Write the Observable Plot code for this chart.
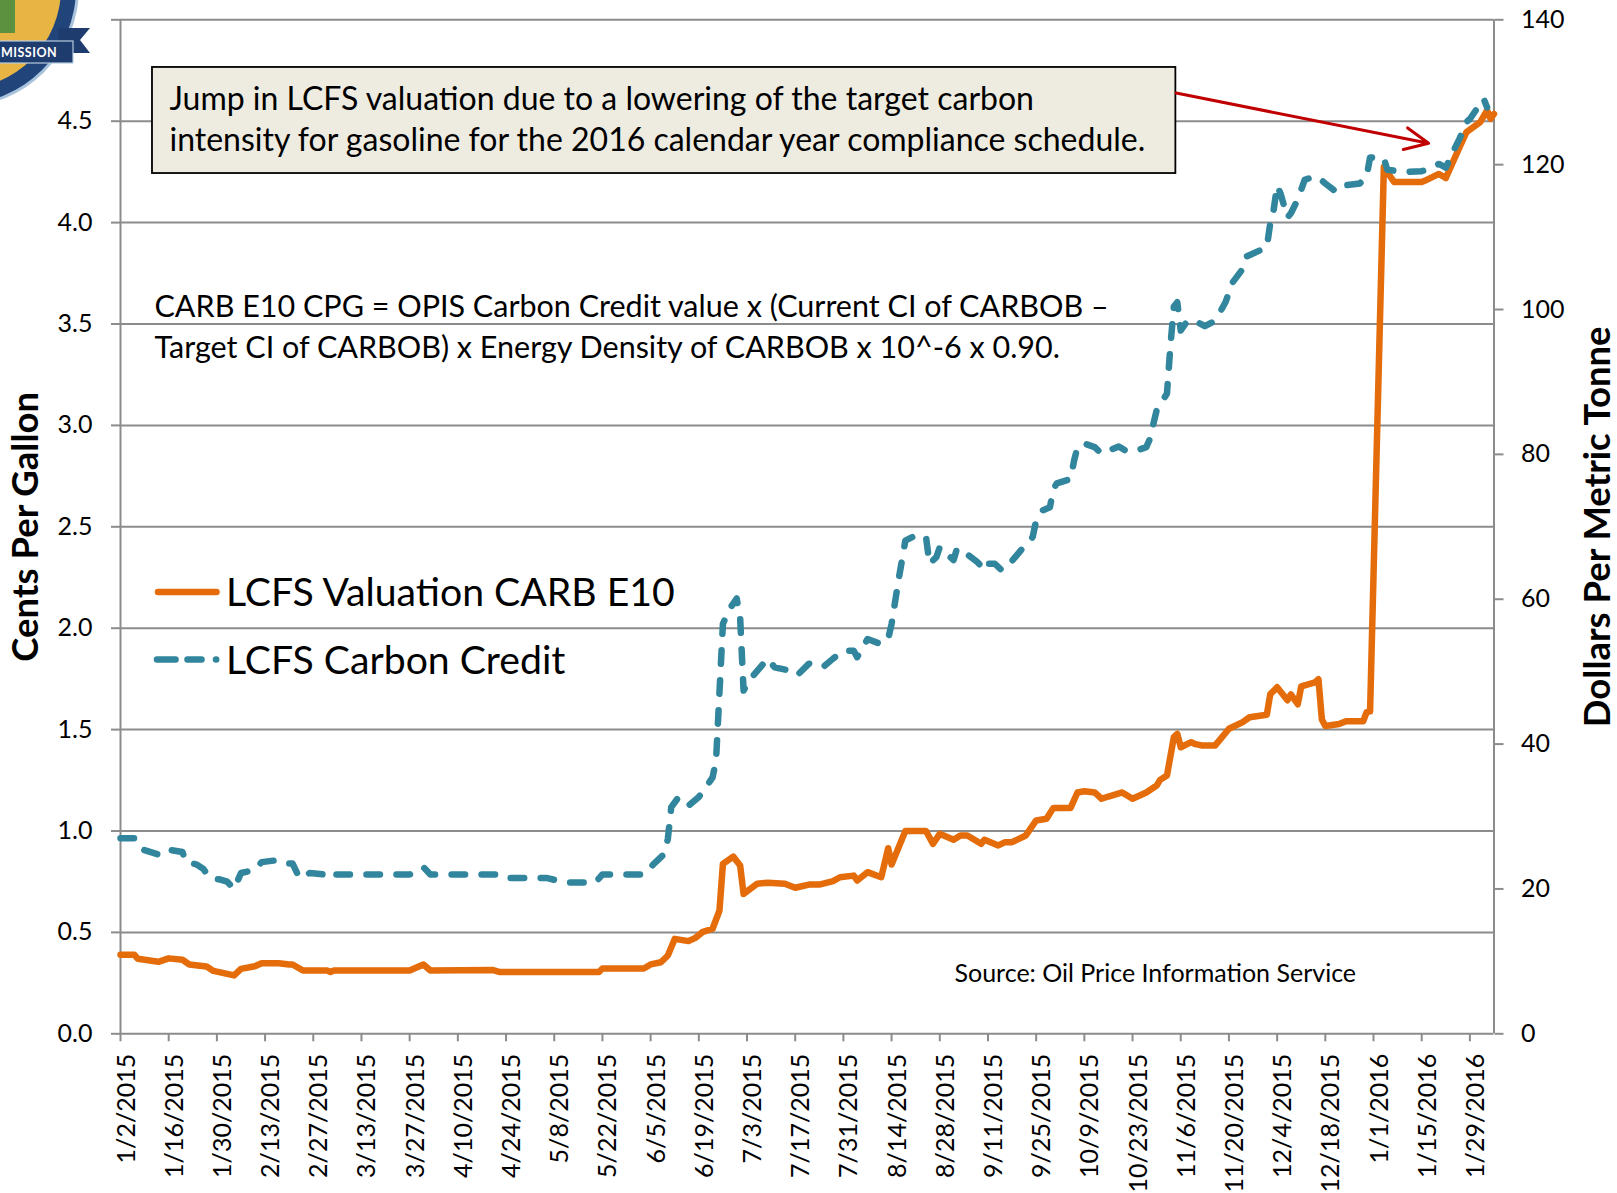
<!DOCTYPE html>
<html><head><meta charset="utf-8">
<script src="https://cdn.jsdelivr.net/npm/d3@7"></script>
<script src="https://cdn.jsdelivr.net/npm/@observablehq/plot@0.6"></script>
<style>
html,body{margin:0;padding:0;background:#fff;}
#chart{position:relative;width:1617px;height:1193px;overflow:hidden;background:#fff;}
</style></head><body><div id="chart"></div>
<script>
// ---------- DATA ----------
const xTickLabels = ["1/2/2015","1/16/2015","1/30/2015","2/13/2015","2/27/2015","3/13/2015","3/27/2015","4/10/2015","4/24/2015","5/8/2015","5/22/2015","6/5/2015","6/19/2015","7/3/2015","7/17/2015","7/31/2015","8/14/2015","8/28/2015","9/11/2015","9/25/2015","10/9/2015","10/23/2015","11/6/2015","11/20/2015","12/4/2015","12/18/2015","1/1/2016","1/15/2016","1/29/2016"];
const leftTicks = [0,0.5,1,1.5,2,2.5,3,3.5,4,4.5,5];
const rightTicks = [0,20,40,60,80,100,120,140];

// LCFS Valuation CARB E10 (cents per gallon)
const e10Dates = ["2015-01-02","2015-01-06","2015-01-07","2015-01-13","2015-01-16","2015-01-20","2015-01-22","2015-01-27","2015-01-29","2015-02-04","2015-02-06","2015-02-10","2015-02-12","2015-02-17","2015-02-20","2015-02-21","2015-02-24","2015-03-03","2015-03-04","2015-03-05","2015-03-27","2015-03-31","2015-04-02","2015-04-20","2015-04-22","2015-05-21","2015-05-22","2015-06-03","2015-06-05","2015-06-08","2015-06-10","2015-06-12","2015-06-16","2015-06-18","2015-06-20","2015-06-23","2015-06-25","2015-06-26","2015-06-29","2015-07-01","2015-07-02","2015-07-06","2015-07-09","2015-07-14","2015-07-17","2015-07-21","2015-07-24","2015-07-28","2015-07-30","2015-08-03","2015-08-04","2015-08-07","2015-08-11","2015-08-13","2015-08-14","2015-08-18","2015-08-24","2015-08-26","2015-08-28","2015-09-01","2015-09-03","2015-09-05","2015-09-09","2015-09-10","2015-09-14","2015-09-16","2015-09-18","2015-09-22","2015-09-25","2015-09-28","2015-09-30","2015-10-05","2015-10-07","2015-10-09","2015-10-12","2015-10-14","2015-10-16","2015-10-20","2015-10-23","2015-10-27","2015-10-30","2015-10-31","2015-11-02","2015-11-04","2015-11-05","2015-11-06","2015-11-09","2015-11-10","2015-11-12","2015-11-16","2015-11-18","2015-11-20","2015-11-24","2015-11-26","2015-12-01","2015-12-02","2015-12-04","2015-12-07","2015-12-08","2015-12-10","2015-12-11","2015-12-15","2015-12-16","2015-12-17","2015-12-18","2015-12-22","2015-12-24","2015-12-29","2015-12-30","2015-12-31","2016-01-04","2016-01-07","2016-01-15","2016-01-16","2016-01-20","2016-01-22","2016-01-26","2016-01-28","2016-02-01","2016-02-03","2016-02-04","2016-02-05"];
const e10Values = [0.39,0.39,0.37,0.355,0.372,0.365,0.342,0.332,0.31,0.288,0.32,0.333,0.348,0.348,0.342,0.342,0.312,0.312,0.305,0.312,0.312,0.342,0.312,0.315,0.305,0.305,0.322,0.322,0.342,0.353,0.386,0.468,0.457,0.473,0.501,0.518,0.608,0.838,0.874,0.83,0.69,0.74,0.745,0.74,0.72,0.736,0.736,0.753,0.772,0.78,0.756,0.797,0.772,0.915,0.835,1.0,1.0,0.937,0.986,0.957,0.978,0.978,0.937,0.957,0.929,0.945,0.945,0.978,1.052,1.06,1.114,1.114,1.19,1.196,1.19,1.159,1.17,1.19,1.159,1.19,1.224,1.252,1.274,1.463,1.479,1.413,1.438,1.43,1.422,1.422,1.463,1.504,1.537,1.561,1.573,1.674,1.709,1.645,1.674,1.625,1.713,1.733,1.748,1.55,1.518,1.528,1.541,1.541,1.586,1.59,4.274,4.2,4.2,4.207,4.24,4.22,4.372,4.446,4.495,4.553,4.512,4.536];

// LCFS Carbon Credit (dollars per metric tonne)
const creditDates = ["2015-01-02","2015-01-06","2015-01-08","2015-01-13","2015-01-15","2015-01-20","2015-01-21","2015-01-24","2015-01-26","2015-01-28","2015-01-31","2015-02-02","2015-02-04","2015-02-06","2015-02-10","2015-02-12","2015-02-17","2015-02-20","2015-02-21","2015-02-23","2015-02-26","2015-03-02","2015-03-04","2015-03-05","2015-03-27","2015-03-31","2015-04-02","2015-04-21","2015-04-23","2015-05-06","2015-05-11","2015-05-20","2015-05-22","2015-06-03","2015-06-06","2015-06-09","2015-06-10","2015-06-11","2015-06-13","2015-06-16","2015-06-19","2015-06-21","2015-06-23","2015-06-24","2015-06-26","2015-06-28","2015-06-30","2015-07-01","2015-07-02","2015-07-04","2015-07-09","2015-07-11","2015-07-15","2015-07-17","2015-07-18","2015-07-21","2015-07-25","2015-07-28","2015-07-31","2015-08-03","2015-08-04","2015-08-07","2015-08-11","2015-08-13","2015-08-14","2015-08-16","2015-08-18","2015-08-21","2015-08-24","2015-08-25","2015-08-27","2015-08-28","2015-09-01","2015-09-02","2015-09-05","2015-09-08","2015-09-10","2015-09-11","2015-09-13","2015-09-15","2015-09-18","2015-09-21","2015-09-24","2015-09-25","2015-09-27","2015-09-29","2015-09-30","2015-10-01","2015-10-05","2015-10-06","2015-10-07","2015-10-09","2015-10-12","2015-10-14","2015-10-16","2015-10-19","2015-10-21","2015-10-24","2015-10-27","2015-10-28","2015-10-30","2015-11-02","2015-11-03","2015-11-04","2015-11-05","2015-11-06","2015-11-08","2015-11-11","2015-11-13","2015-11-15","2015-11-17","2015-11-19","2015-11-21","2015-11-24","2015-11-25","2015-12-01","2015-12-02","2015-12-03","2015-12-04","2015-12-05","2015-12-07","2015-12-08","2015-12-10","2015-12-12","2015-12-15","2015-12-16","2015-12-18","2015-12-21","2015-12-23","2015-12-28","2015-12-30","2015-12-31","2016-01-04","2016-01-05","2016-01-10","2016-01-15","2016-01-17","2016-01-20","2016-01-22","2016-01-24","2016-01-26","2016-01-28","2016-01-29","2016-02-02","2016-02-03"];
const creditValues = [27.0,27.0,25.5,24.75,25.5,25.1,23.7,23.4,22.8,21.5,21.3,21.0,20.0,22.2,22.6,23.7,24.0,23.5,23.5,21.5,22.2,22.0,21.5,22.0,22.0,23.0,22.0,22.0,21.5,21.5,20.9,20.9,22.0,22.0,23.5,24.85,26.9,31.3,32.6,31.5,32.7,34.0,35.4,37.7,56.6,58.7,60.1,57.5,47.4,49.0,51.8,50.6,50.2,49.5,49.7,51.1,50.6,51.8,52.9,52.9,52.0,54.5,53.8,54.5,56.6,62.6,68.1,68.8,68.6,64.9,65.8,67.2,65.4,67.0,66.2,65.1,64.0,64.9,64.9,64.0,65.3,67.0,68.6,70.9,72.3,72.7,75.2,76.0,76.6,79.1,81.0,81.5,81.0,80.1,80.5,81.1,80.5,80.5,81.0,82.1,86.1,88.4,95.0,100.4,101.0,97.1,98.5,98.2,97.7,98.2,99.3,101.0,103.7,105.6,107.3,108.6,111.9,113.8,117.1,116.0,112.7,113.3,115.2,117.9,118.4,118.2,117.4,116.3,117.1,117.4,118.4,121.0,120.9,119.3,119.0,119.1,119.4,120.1,119.6,121.7,123.6,125.9,126.3,129.1,127.9];

const seriesNames = ["LCFS Valuation CARB E10", "LCFS Carbon Credit"];
const noteText = "Jump in LCFS valuation due to a lowering of the target carbon\nintensity for gasoline for the 2016 calendar year compliance schedule.";
const formulaText = "CARB E10 CPG = OPIS Carbon Credit value x (Current CI of CARBOB \u2013\nTarget CI of CARBOB) x Energy Density of CARBOB x 10^-6 x 0.90.";
const sourceText = "Source: Oil Price Information Service";
const leftTitle = "Cents Per Gallon";
const rightTitle = "Dollars Per Metric Tonne";

// annotation anchors in data units
const noteBox = [{x1: new Date("2015-01-11T07:00Z"), x2: new Date("2015-11-04T14:00Z"), y1: 4.242, y2: 4.765}];
const noteArrow = [{x1: new Date("2015-11-04T16:00Z"), y1: 4.639, x2: new Date("2016-01-17T00:00Z"), y2: 4.391}];

// ---------- BUILD ----------
const parse = d3.utcParse("%Y-%m-%d");
const parseTick = d3.utcParse("%m/%d/%Y");
const e10 = e10Dates.map((d, i) => ({date: parse(d), value: e10Values[i]}));
const credit = creditDates.map((d, i) => ({date: parse(d), value: creditValues[i]}));
const tickDates = xTickLabels.map(s => parseTick(s));
const ratio = 140 / 5; // right axis ($/t) per left axis unit (cents/gal)

const orange = "#E46C0A";
const blue = "#31859C";
const gray = "#8C8C8C";
const font = "Lato, 'Open Sans', sans-serif";

const plot = Plot.plot({
  width: 1617, height: 1193,
  marginLeft: 120, marginRight: 123.5, marginTop: 19.3, marginBottom: 159.7,
  style: {fontFamily: font, fontSize: "25px", color: "#000", background: "#fff", overflow: "visible"},
  x: {type: "utc", domain: [parse("2015-01-02"), parse("2016-02-05")]},
  y: {domain: [0, 5]},
  marks: [
    Plot.gridY(leftTicks.filter(d => d > 0), {stroke: gray, strokeOpacity: 1, strokeWidth: 2}),
    Plot.ruleY([0], {stroke: gray, strokeWidth: 2}),
    Plot.ruleX([parse("2015-01-02"), parse("2016-02-05")], {stroke: gray, strokeWidth: 2}),
    Plot.axisY(leftTicks, {tickFormat: d => d === 5 ? "" : d.toFixed(1), tickSize: 9, tickPadding: 19, stroke: gray, strokeWidth: 2, label: null}),
    Plot.axisY(rightTicks.map(t => t / ratio), {anchor: "right", tickFormat: d => String(Math.round(d * ratio)), tickSize: 9, tickPadding: 18, stroke: gray, strokeWidth: 2, label: null}),
    Plot.axisX(tickDates, {tickFormat: () => "", tickSize: 8, stroke: gray, strokeWidth: 2, label: null}),
    Plot.axisX(tickDates, {tickFormat: d3.utcFormat("%-m/%-d/%Y"), tickSize: 0, tickPadding: 20, tickRotate: -90, dx: 6, label: null}),
    Plot.rect(noteBox, {x1: "x1", x2: "x2", y1: "y1", y2: "y2", fill: "#EEECE1", stroke: "#000", strokeWidth: 1.8}),
    Plot.text([noteText], {text: d => d, frameAnchor: "top-left", textAnchor: "start", lineAnchor: "top", lineHeight: 1.28, dx: 49, dy: 61.5, fontSize: 32}),
    Plot.text([formulaText], {text: d => d, frameAnchor: "top-left", textAnchor: "start", lineAnchor: "top", lineHeight: 1.355, dx: 34, dy: 268, fontSize: 30.5}),
    Plot.text([sourceText], {text: d => d, frameAnchor: "top-left", textAnchor: "start", lineAnchor: "top", dx: 834, dy: 944, fontSize: 25}),
    Plot.text([leftTitle], {text: d => d, frameAnchor: "left", textAnchor: "middle", rotate: -90, dx: -94.2, fontSize: 36.5, fontWeight: "bold"}),
    Plot.text([rightTitle], {text: d => d, frameAnchor: "right", textAnchor: "middle", rotate: -90, dx: 104.5, fontSize: 36.5, fontWeight: "bold"}),
    Plot.line(e10, {x: "date", y: "value", stroke: orange, strokeWidth: 6.5, strokeLinejoin: "round", strokeLinecap: "round"}),
    Plot.line(credit, {x: "date", y: d => d.value / ratio, stroke: blue, strokeWidth: 6.5, strokeDasharray: "13.5,16.5", strokeLinecap: "round", strokeLinejoin: "round"}),
    Plot.arrow(noteArrow, {x1: "x1", y1: "y1", x2: "x2", y2: "y2", stroke: "#C00000", strokeWidth: 3, headLength: 13, headAngle: 50})
  ]
});

document.getElementById("chart").appendChild(plot);
const svg = d3.select(plot);

// legend
const lg = svg.append("g").attr("font-family", font).attr("font-size", 39.2).attr("text-anchor", "start");
lg.append("line").attr("x1", 158).attr("x2", 216.5).attr("y1", 592).attr("y2", 592)
  .attr("stroke", orange).attr("stroke-width", 6.5).attr("stroke-linecap", "round");
[[157, 175.5], [187.5, 201.5], [216, 216.2]].forEach(([a, b]) => {
  lg.append("line").attr("x1", a).attr("x2", b).attr("y1", 659.5).attr("y2", 659.5)
    .attr("stroke", blue).attr("stroke-width", 6.5).attr("stroke-linecap", "round");
});
lg.append("text").attr("x", 226).attr("y", 605.5).text(seriesNames[0]);
lg.append("text").attr("x", 226).attr("y", 673.5).text(seriesNames[1]);

// logo fragment (top-left corner)
const logo = svg.append("g").attr("text-anchor", "start");
logo.append("circle").attr("cx", -40).attr("cy", -12).attr("r", 119).attr("fill", "#A9C3DD");
logo.append("circle").attr("cx", -40).attr("cy", -12).attr("r", 116).attr("fill", "#21457A");
logo.append("circle").attr("cx", -40).attr("cy", -12).attr("r", 101).attr("fill", "#E8B545");
logo.append("rect").attr("x", 0).attr("y", 0).attr("width", 15).attr("height", 33).attr("fill", "#5C9140");
logo.append("polygon").attr("points", "58,28 90,28 80,40 90,53 58,53").attr("fill", "#1F3C6E");
logo.append("rect").attr("x", -3).attr("y", 41).attr("width", 76).attr("height", 22).attr("fill", "#1F3C6E").attr("stroke", "#B8CCE0").attr("stroke-width", 1.2);
logo.append("text").attr("x", 1).attr("y", 57).attr("fill", "#fff").attr("font-family", font)
  .attr("font-weight", "bold").attr("font-size", 12.5).attr("letter-spacing", 0.5).text("MISSION");
</script></body></html>
